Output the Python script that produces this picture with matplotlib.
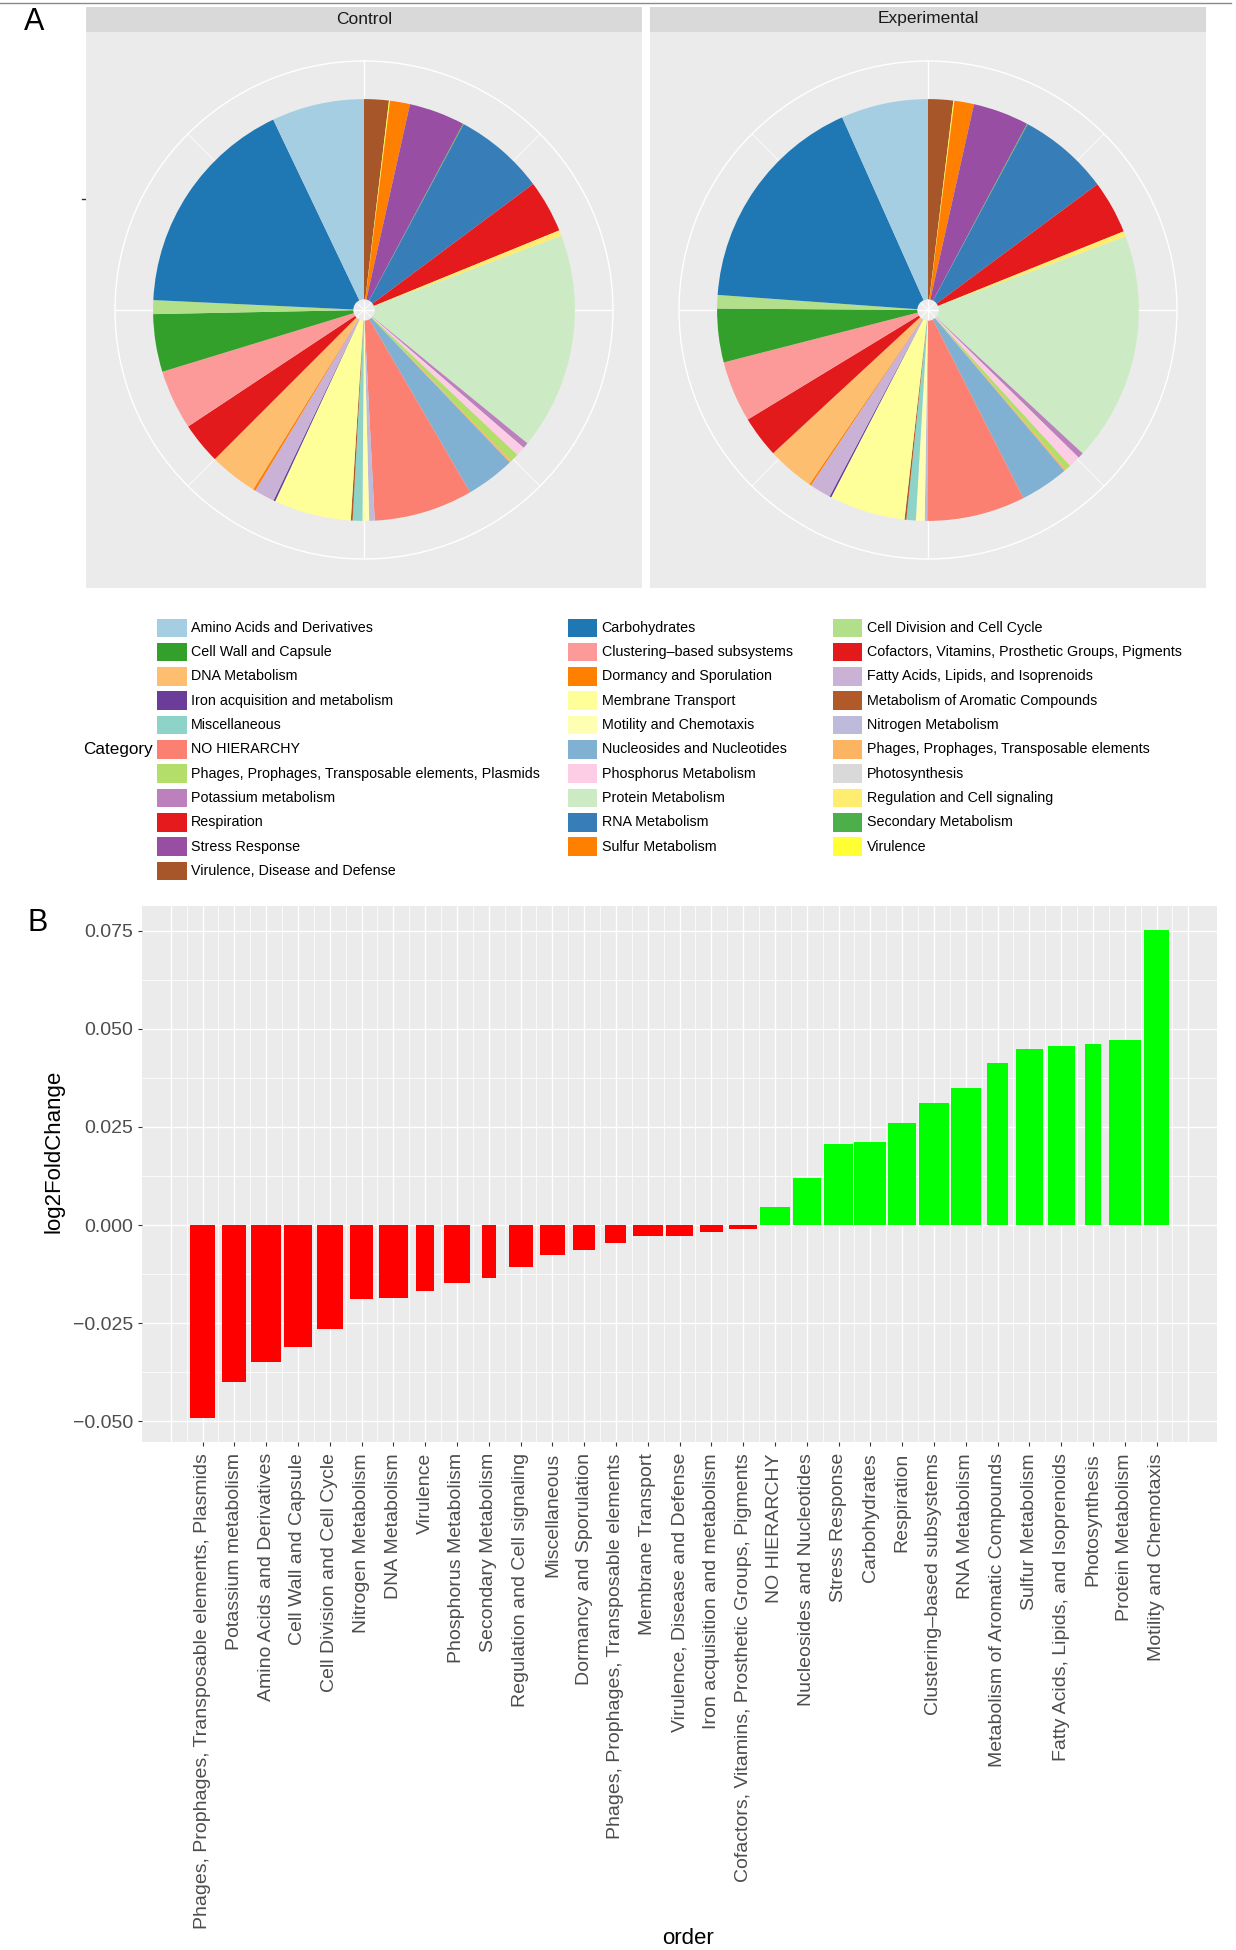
import numpy as np
import matplotlib
matplotlib.use('Agg')
import matplotlib.pyplot as plt
from matplotlib.patches import Rectangle

plt.rcParams['font.family'] = ['Liberation Sans', 'DejaVu Sans']

# ---- data ----
categories = [
    "Amino Acids and Derivatives", "Carbohydrates", "Cell Division and Cell Cycle",
    "Cell Wall and Capsule", "Clustering\u2013based subsystems",
    "Cofactors, Vitamins, Prosthetic Groups, Pigments", "DNA Metabolism",
    "Dormancy and Sporulation", "Fatty Acids, Lipids, and Isoprenoids",
    "Iron acquisition and metabolism", "Membrane Transport",
    "Metabolism of Aromatic Compounds", "Miscellaneous", "Motility and Chemotaxis",
    "Nitrogen Metabolism", "NO HIERARCHY", "Nucleosides and Nucleotides",
    "Phages, Prophages, Transposable elements",
    "Phages, Prophages, Transposable elements, Plasmids", "Phosphorus Metabolism",
    "Photosynthesis", "Potassium metabolism", "Protein Metabolism",
    "Regulation and Cell signaling", "Respiration", "RNA Metabolism",
    "Secondary Metabolism", "Stress Response", "Sulfur Metabolism", "Virulence",
    "Virulence, Disease and Defense",
]

# percent of annotated reads per category (same order as categories)
control_pct = [7.08, 17.17, 1.06, 4.42, 4.58, 3.19, 3.69, 0.19, 1.56, 0.14, 5.92,
               0.14, 0.74, 0.51, 0.42, 7.58, 3.75, 0.14, 0.67, 0.69, 0.03, 0.44,
               16.61, 0.44, 4.03, 6.97, 0.06, 4.28, 1.53, 0.08, 1.89]
experimental_pct = [6.67, 17.19, 1.03, 4.11, 4.69, 3.19, 3.61, 0.14, 1.64, 0.14, 5.81,
                    0.14, 0.72, 0.67, 0.19, 7.53, 3.72, 0.14, 0.44, 0.86, 0.03, 0.44,
                    17.56, 0.42, 4.08, 7.00, 0.06, 4.28, 1.50, 0.08, 1.92]

order_labels = [
    "Phages, Prophages, Transposable elements, Plasmids", "Potassium metabolism",
    "Amino Acids and Derivatives", "Cell Wall and Capsule", "Cell Division and Cell Cycle",
    "Nitrogen Metabolism", "DNA Metabolism", "Virulence", "Phosphorus Metabolism",
    "Secondary Metabolism", "Regulation and Cell signaling", "Miscellaneous",
    "Dormancy and Sporulation", "Phages, Prophages, Transposable elements",
    "Membrane Transport", "Virulence, Disease and Defense",
    "Iron acquisition and metabolism", "Cofactors, Vitamins, Prosthetic Groups, Pigments",
    "NO HIERARCHY", "Nucleosides and Nucleotides", "Stress Response", "Carbohydrates",
    "Respiration", "Clustering\u2013based subsystems", "RNA Metabolism",
    "Metabolism of Aromatic Compounds", "Sulfur Metabolism",
    "Fatty Acids, Lipids, and Isoprenoids", "Photosynthesis", "Protein Metabolism",
    "Motility and Chemotaxis",
]
log2fc = [-0.0492, -0.0401, -0.0350, -0.0310, -0.0266, -0.0189, -0.0187, -0.0169,
          -0.0148, -0.0136, -0.0108, -0.0077, -0.0064, -0.0046, -0.0029, -0.0029,
          -0.0019, -0.0009, 0.0046, 0.0119, 0.0207, 0.0211, 0.0261, 0.0310, 0.0349,
          0.0412, 0.0449, 0.0456, 0.0462, 0.0471, 0.0751]

# ---- style ----
paired = ['#A6CEE3', '#1F78B4', '#B2DF8A', '#33A02C', '#FB9A99', '#E31A1C',
          '#FDBF6F', '#FF7F00', '#CAB2D6', '#6A3D9A', '#FFFF99', '#B15928']
set3 = ['#8DD3C7', '#FFFFB3', '#BEBADA', '#FB8072', '#80B1D3', '#FDB462',
        '#B3DE69', '#FCCDE5', '#D9D9D9', '#BC80BD', '#CCEBC5', '#FFED6F']
set1 = ['#E41A1C', '#377EB8', '#4DAF4A', '#984EA3', '#FF7F00', '#FFFF33', '#A65628']
cat_colors = paired + set3 + set1
bar_widths = [0.78, 0.76, 0.93, 0.88, 0.81, 0.72, 0.90, 0.57, 0.80, 0.44, 0.76,
              0.78, 0.71, 0.66, 0.93, 0.85, 0.70, 0.90, 0.94, 0.89, 0.90, 1.0,
              0.90, 0.92, 0.94, 0.68, 0.84, 0.84, 0.53, 1.0, 0.76]
BG = '#EBEBEB'

W, H = 1236, 1950
fig = plt.figure(figsize=(W / 100, H / 100), dpi=100)


def rect(x0, y0, x1, y1):
    return [x0 / W, 1 - y1 / H, (x1 - x0) / W, (y1 - y0) / H]


# overlay axes in pixel coords for free text / legend
ov = fig.add_axes([0, 0, 1, 1], zorder=0)
ov.set_xlim(0, W)
ov.set_ylim(H, 0)
ov.axis('off')

ov.plot([0, 1231], [3.3, 3.3], color='#8A8A8A', lw=1)
ov.text(34, 22, "A", fontsize=22, ha='center', va='center')
ov.text(38, 923, "B", fontsize=22, ha='center', va='center')

# ---- panel A: polar facets ----
facets = [("Control", control_pct, 86, 642), ("Experimental", experimental_pct, 650, 1206)]
for name, vals, x0, x1 in facets:
    bg = fig.add_axes(rect(x0, 32, x1, 588), zorder=1)
    bg.set_facecolor(BG)
    bg.set_xticks([])
    bg.set_yticks([])
    for s in bg.spines.values():
        s.set_visible(False)

    st = fig.add_axes(rect(x0, 7, x1, 32), zorder=1)
    st.set_facecolor('#D9D9D9')
    st.set_xticks([])
    st.set_yticks([])
    for s in st.spines.values():
        s.set_visible(False)
    st.text(0.5, 0.52, name, fontsize=12.5, color='#1A1A1A', ha='center', va='center',
            transform=st.transAxes)

    cx, cy, R = (x0 + x1) / 2, 310, 249
    pa = fig.add_axes(rect(cx - R, cy - R, cx + R, cy + R), projection='polar', zorder=2)
    pa.set_theta_zero_location('N')
    pa.set_theta_direction(-1)
    pa.patch.set_alpha(0)
    pa.set_ylim(0, 1)
    pa.set_xticks([])
    pa.set_yticks([])
    pa.grid(False)
    pa.spines['polar'].set_color('white')
    pa.spines['polar'].set_linewidth(1.0)
    for a in range(0, 360, 45):
        lw = 1.0 if a % 90 == 0 else 0.6
        pa.plot([np.radians(a)] * 2, [0, 1], color='white', lw=lw, zorder=1)

    v = np.array(vals, dtype=float)
    idx = list(range(len(categories)))[::-1]
    ang = v[idx] / v.sum() * 2 * np.pi
    starts = np.cumsum(ang) - ang
    pa.bar(starts, 0.847 - 0.043, width=ang, bottom=0.043, align='edge',
           color=[cat_colors[i] for i in idx], linewidth=0, zorder=3)

ov.plot([81.5, 86], [198.5, 198.5], color='#333333', lw=1)

# ---- legend ----
key_x = [157, 567.5, 832.7]
row0, pitch = 627.7, 24.33
for k, cat in enumerate(categories):
    r, c = divmod(k, 3)
    yc = row0 + r * pitch
    ov.add_patch(Rectangle((key_x[c], yc - 9.2), 29.6, 18.4, facecolor=cat_colors[k],
                           edgecolor='none'))
    ov.text(key_x[c] + 34, yc, cat, fontsize=10.3, ha='left', va='center')
ov.text(83.5, row0 + 5 * pitch, "Category", fontsize=12.3, ha='left', va='center')

# ---- panel B: bars ----
ax = fig.add_axes(rect(141.7, 906, 1217, 1442), zorder=1)
ax.set_facecolor(BG)
n = len(order_labels)
xpos = np.arange(n)
ax.set_xlim(-1.915, 31.9)
ax.set_ylim(-0.0553, 0.0813)
for gx in np.arange(-1, 31.01, 0.5):
    ax.axvline(gx, color='white', lw=1.0 if gx == int(gx) else 0.55, zorder=1)
for gy in np.arange(-0.05, 0.0751, 0.025):
    ax.axhline(gy, color='white', lw=1.0, zorder=1)
for gy in np.arange(-0.0375, 0.07, 0.025):
    ax.axhline(gy, color='white', lw=0.55, zorder=1)

ax.bar(xpos, log2fc, width=bar_widths,
       color=['#FF0000' if v < 0 else '#00FF00' for v in log2fc], linewidth=0, zorder=3)

ax.set_xticks(xpos)
ax.set_xticklabels(order_labels, rotation=90, fontsize=14, color='#4D4D4D')
yt = [-0.05, -0.025, 0.0, 0.025, 0.05, 0.075]
ax.set_yticks(yt)
ax.set_yticklabels([f"{t:.3f}".replace('-', '\u2212') for t in yt], fontsize=14,
                   color='#4D4D4D')
ax.tick_params(axis='both', length=3, width=0.8, color='#333333', pad=3)
ax.tick_params(axis='x', pad=5)
for s in ax.spines.values():
    s.set_visible(False)

ov.text(53.6, 1151.6, "log2FoldChange", fontsize=16, rotation=90, ha='center', va='center')
ov.text(688, 1938, "order", fontsize=16, ha='center', va='center')

fig.savefig('out.png', dpi=100, facecolor='white')
